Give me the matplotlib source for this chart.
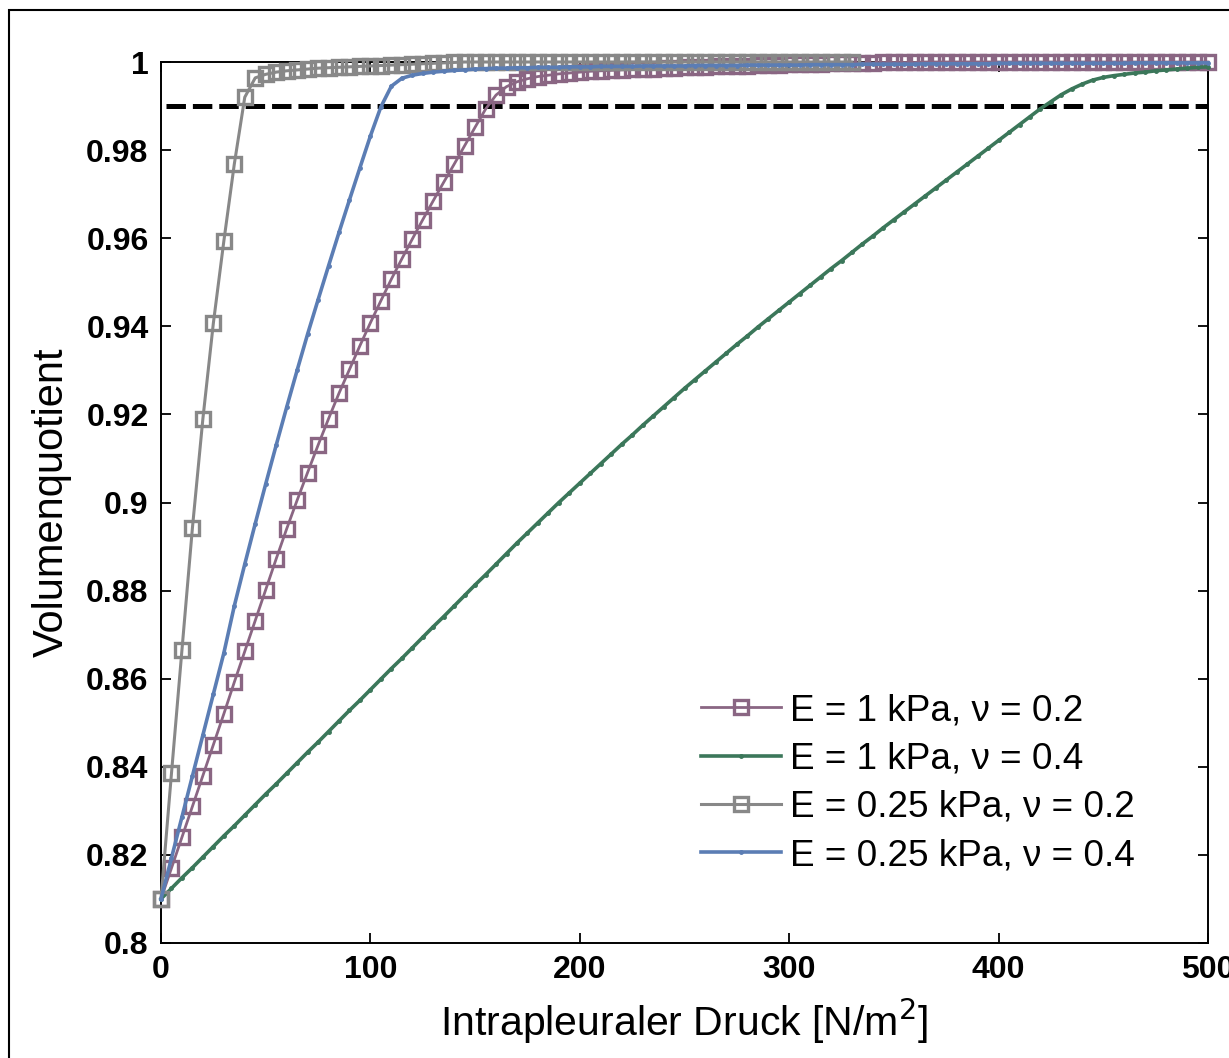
import numpy as np
import matplotlib
matplotlib.use("Agg")
import matplotlib.pyplot as plt
from matplotlib.patches import Rectangle

# pressure steps [N/m^2]
druck = np.arange(0, 505, 5)

vq_e1_n02 = [.8100, .8170, .8240, .8310, .8380, .8450, .8520, .8592, .8662, .8732,
             .8802, .8872, .8940, .9005, .9068, .9130, .9190, .9248, .9302, .9356,
             .9408, .9458, .9507, .9553, .9598, .9642, .9685, .9727, .9768, .9810,
             .9852, .9893, .9925, .9944, .9955, .9962, .9967, .9970, .9973, .9975,
             .9977, .9979, .9980, .9981, .9982, .9983, .9984, .9985, .9986, .9987,
             .9988, .9989, .9989, .9990, .9991, .9991, .9992, .9993, .9993, .9994,
             .9995, .9995, .9996, .9996, .9997, .9997, .9998, .9998, .9998, .9999,
             .9999, .9999, .9999, 1.0, 1.0, 1.0, 1.0, 1.0, 1.0, 1.0,
             1.0, 1.0, 1.0, 1.0, 1.0, 1.0, 1.0, 1.0, 1.0, 1.0,
             1.0, 1.0, 1.0, 1.0, 1.0, 1.0, 1.0, 1.0, 1.0, 1.0,
             1.0]

vq_e1_n04 = [.8100, .8124, .8148, .8171, .8195, .8219, .8243, .8266, .8290, .8314,
             .8338, .8361, .8385, .8409, .8433, .8456, .8480, .8504, .8528, .8551,
             .8575, .8599, .8623, .8646, .8670, .8694, .8718, .8741, .8765, .8789,
             .8813, .8836, .8860, .8884, .8908, .8931, .8954, .8977, .9000, .9022,
             .9044, .9066, .9088, .9110, .9132, .9153, .9175, .9196, .9217, .9238,
             .9259, .9279, .9299, .9319, .9339, .9359, .9378, .9398, .9417, .9436,
             .9455, .9474, .9493, .9512, .9531, .9549, .9568, .9587, .9605, .9624,
             .9642, .9660, .9678, .9696, .9714, .9732, .9750, .9768, .9786, .9804,
             .9822, .9840, .9858, .9876, .9894, .9910, .9926, .9939, .9950, .9959,
             .9965, .9969, .9972, .9975, .9977, .9980, .9982, .9984, .9986, .9988,
             .9989]

vq_e025_n02 = [.8100, .8385, .8665, .8942, .9190, .9407, .9593, .9768, .9920, .9964,
               .9972, .9977, .9980, .9982, .9984, .9986, .9987, .9988, .9989, .9990,
               .9991, .9992, .9993, .9994, .9995, .9996, .9997, .9998, .9999, 1.0,
               1.0, 1.0, 1.0, 1.0, 1.0, 1.0, 1.0, 1.0, 1.0, 1.0,
               1.0, 1.0, 1.0, 1.0, 1.0, 1.0, 1.0, 1.0, 1.0, 1.0,
               1.0, 1.0, 1.0, 1.0, 1.0, 1.0, 1.0, 1.0, 1.0, 1.0,
               1.0, 1.0, 1.0, 1.0, 1.0, 1.0, 1.0]

vq_e025_n04 = [.8100, .8193, .8286, .8379, .8472, .8565, .8658, .8765, .8860, .8952,
               .9042, .9130, .9216, .9300, .9382, .9460, .9537, .9613, .9687, .9760,
               .9832, .9898, .9945, .9963, .9970, .9974, .9977, .9979, .9981, .9982,
               .9984, .9985, .9986, .9986, .9987, .9987, .9988, .9988, .9988, .9989,
               .9989, .9989, .9990, .9990, .9990, .9990, .9991, .9991, .9991, .9991,
               .9991, .9992, .9992, .9992, .9992, .9992, .9993, .9993, .9993, .9993,
               .9993, .9993, .9994, .9994, .9994, .9994, .9994, .9995, .9995, .9995,
               .9995, .9995, .9995, .9996, .9996, .9996, .9996, .9996, .9996, .9996,
               .9997, .9997, .9997, .9997, .9997, .9997, .9997, .9997, .9997, .9997,
               .9997, .9997, .9997, .9998, .9998, .9998, .9998, .9998, .9998, .9998,
               .9998]

grenze = 0.99

labels = ["E = 1 kPa, \u03bd = 0.2", "E = 1 kPa, \u03bd = 0.4",
          "E = 0.25 kPa, \u03bd = 0.2", "E = 0.25 kPa, \u03bd = 0.4"]

plt.rcParams['font.family'] = ['Liberation Sans', 'DejaVu Sans']
plt.rcParams['lines.scale_dashes'] = False

fig = plt.figure(figsize=(12.29, 10.58), dpi=100)
ax = fig.add_axes([161/1229, 1 - 943/1058, (1208-161)/1229, (943-62)/1058])

# outer frame (cut off on right and bottom like in the original)
fig.patches.append(Rectangle((9/1229, -0.1), 1.2, 1.1 - 10/1058, transform=fig.transFigure,
                             fill=False, edgecolor='black', linewidth=1.5))

purple = '#8a6683'
green = '#3b775a'
grey = '#888888'
blue = '#5b7db4'

ax.plot(druck, vq_e1_n02, color=purple, lw=2.0, marker='s', ms=10, mfc='none',
        mec=purple, mew=2.4, label=labels[0], clip_on=False, zorder=3)
ax.plot(druck, vq_e1_n04, color=green, lw=2.6, marker='.', ms=5,
        label=labels[1], clip_on=False, zorder=3)
ax.plot(druck[:len(vq_e025_n02)], vq_e025_n02, color=grey, lw=2.2, marker='s', ms=10,
        mfc='none', mec=grey, mew=2.4, label=labels[2], clip_on=False, zorder=3)
ax.plot(druck, vq_e025_n04, color=blue, lw=2.6, marker='.', ms=5,
        label=labels[3], clip_on=False, zorder=3)

ax.axhline(grenze, xmin=0.005, xmax=1, color='black', lw=3.6, dashes=(14, 5), zorder=2)

ax.set_xlim(0, 500)
ax.set_ylim(0.8, 1.0)
ax.set_xticks([0, 100, 200, 300, 400, 500])
ax.set_yticks([0.8, 0.82, 0.84, 0.86, 0.88, 0.9, 0.92, 0.94, 0.96, 0.98, 1.0])
ax.set_yticklabels(['0.8', '0.82', '0.84', '0.86', '0.88', '0.9', '0.92', '0.94',
                    '0.96', '0.98', '1'])
ax.tick_params(direction='in', length=7, width=1.3, top=True, right=True,
               labelsize=23, pad=9)
for lab in ax.get_xticklabels() + ax.get_yticklabels():
    lab.set_fontweight('bold')
for sp in ax.spines.values():
    sp.set_linewidth(1.4)

ax.set_xlabel('Intrapleuraler Druck [N/m$^2$]', fontsize=29.5, labelpad=8)
ax.set_ylabel('Volumenquotient', fontsize=30, labelpad=10)

ax.legend(loc='lower right', bbox_to_anchor=(0.955, 0.05), frameon=False, fontsize=26.6,
          handlelength=2.15, handletextpad=0.25, labelspacing=0.36, numpoints=1,
          borderpad=0.2)

fig.savefig('out.png', dpi=100)
